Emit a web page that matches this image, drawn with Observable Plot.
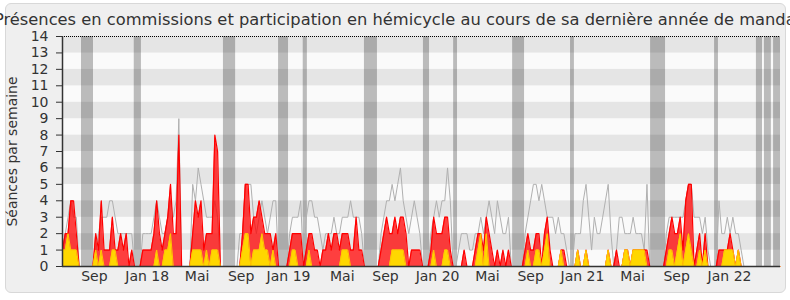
<!DOCTYPE html>
<html><head><meta charset="utf-8">
<script src="https://cdn.jsdelivr.net/npm/d3@7"></script>
<script src="https://cdn.jsdelivr.net/npm/@observablehq/plot@0.6"></script>
<style>
body{margin:0;background:#fff;}
#wrap{position:relative;width:790px;height:300px;overflow:hidden;font-family:"DejaVu Sans";}
#panel{position:absolute;left:5px;top:3px;width:779px;height:288px;background:#efefef;border:1px solid #d8d8d8;border-radius:6px;}
#title{position:relative;height:28px;white-space:nowrap;}
#title span{position:absolute;left:398px;top:12px;transform:translateX(-50%);font-size:16.3px;line-height:16px;color:#333;}
#chart{position:relative;}
#chart svg{overflow:visible;}
</style></head>
<body>
<div id="wrap">
  <div id="panel"></div>
  <div id="title"><span>Présences en commissions et participation en hémicycle au cours de sa dernière année de mandat</span></div>
  <div id="chart"></div>
</div>
<script>
// Weekly values, one entry per week starting the week of 2017-06-19
const red = [
 1,2,2,4,4,2,0,0,0,0,  0,0,2,1,4,1,1,1,3,1,
 1,2,1,2,0,1,0,0,0,1,  1,1,1,2,4,2,1,2,3,5,
 2,2,8,0,0,0,0,2,4,3,  4,1,2,2,2,8,7,0,0,0,
 0,0,0,0,0,2,5,5,2,3,  3,4,3,2,2,2,1,2,0,0,
 0,0,1,2,2,2,2,0,1,2,  2,1,1,0,1,1,2,1,2,2,
 1,2,2,2,1,1,3,1,1,0,  0,0,0,0,0,1,2,3,2,2,
 3,2,3,3,2,0,1,1,1,1,  0,0,0,1,3,2,2,2,3,3,
 1,0,0,0,0,1,0,0,0,1,  2,2,1,3,2,1,0,1,0,1,
 0,1,0,0,0,0,0,1,2,1,  1,2,2,0,2,3,1,0,0,0,
 1,1,0,0,0,0,1,0,0,1,  0,0,0,0,0,0,0,1,0,0,
 1,0,0,1,1,0,1,1,1,1,  1,1,0,0,0,0,0,0,1,2,
 3,2,2,3,1,4,5,5,0,1,  2,0,2,0,0,0,0,1,1,1,
 1,2,1,0,1,0,0,0,0,0,  0,0,0,0,0,0,0,0,0,0
];
const yellow = [
 1,1,2,1,1,1,0,0,0,0,  0,0,1,0,1,0,0,0,1,1,
 0,0,0,0,0,0,0,0,0,0,  0,0,0,0,1,0,0,1,1,2,
 0,0,0,0,0,0,0,1,1,1,  1,0,1,0,1,1,1,0,0,0,
 0,0,0,0,0,1,2,2,0,1,  1,1,2,1,1,0,1,0,0,0,
 0,0,0,1,1,0,0,0,0,1,  0,0,0,0,0,0,0,0,0,0,
 0,1,1,1,0,0,0,0,0,0,  0,0,0,0,0,0,0,0,0,1,
 1,1,1,1,0,0,0,0,0,0,  0,0,0,0,1,0,0,0,1,1,
 0,0,0,0,0,0,0,0,0,0,  1,2,0,2,0,0,0,0,0,0,
 0,0,0,0,0,0,0,0,1,0,  0,1,1,0,1,2,0,0,0,0,
 1,0,0,0,0,0,1,0,0,1,  0,0,0,0,0,0,0,1,0,0,
 0,0,0,1,1,0,1,1,1,1,  1,0,0,0,0,0,0,0,0,1,
 1,0,1,2,0,1,2,1,0,0,  1,0,1,0,0,0,0,0,0,1,
 1,1,1,0,1,0,0,0,0,0,  0,0,0,0,0,0,0,0,0,0
];
const gray = [
 1,2,3,4,3,3,0,0,0,0,  0,0,1,2,3,3,3,4,4,3,
 2,2,2,2,2,2,0,0,0,2,  2,2,2,3,4,3,2,2,3,4,
 3,4,9,0,0,0,0,5,4,6,  5,4,3,3,3,4,3,0,0,0,
 0,0,0,0,2,2,5,5,5,3,  2,3,4,3,2,3,4,4,0,0,
 0,0,2,3,3,3,4,0,3,4,  4,3,3,2,1,2,2,2,3,2,
 2,3,3,3,4,3,3,3,2,0,  0,0,0,0,0,2,3,4,4,5,
 4,5,6,4,3,2,3,4,3,2,  0,0,0,2,3,4,3,4,4,6,
 4,0,0,1,2,2,2,1,1,2,  2,3,2,3,4,3,2,4,3,2,
 2,3,0,0,0,0,0,2,3,4,  5,5,4,5,4,3,3,3,2,3,
 2,2,1,0,0,2,2,2,4,5,  3,1,3,2,2,3,4,5,2,0,
 1,3,3,2,2,2,3,2,2,2,  1,5,0,0,0,0,0,0,2,3,
 3,3,3,3,3,4,5,5,3,3,  3,2,3,1,0,0,0,4,2,2,
 3,2,3,2,2,1,0,0,0,0,  0,0,0,0,0,0,0,0,0,0
];
// Recess periods (in weeks from start)
const vacStart = [6.86, 25.9, 58.1, 78.0, 86.9, 109.0, 130.3, 141.2, 162.5, 183.4, 212.3, 235.4, 250.5, 253.4, 256.7];
const vacEnd   = [11.19, 28.5, 62.5, 81.6, 88.4, 113.7, 132.5, 142.6, 166.8, 184.8, 217.7, 236.8, 252.7, 255.9, 259.2];
// Month tick labels (in weeks from start)
const tickWeeks  = [11.5, 30.6, 48.6, 64.5, 81.6, 101, 116.6, 135.4, 153.4, 169, 187.7, 205.8, 221.7, 240.8];
const tickLabels = ["Sep","Jan 18","Mai","Sep","Jan 19","Mai","Sep","Jan 20","Mai","Sep","Jan 21","Mai","Sep","Jan 22"];
const yTicks = d3.range(0, 15);
const xMax = 259.2, yMax = 14;

const weeks = red.map((r, k) => ({k, r, y: yellow[k], g: gray[k]}));
const bands = d3.range(yMax).map(i => ({lo: i, hi: i + 1, dark: (yMax - 1 - i) % 2 === 0}));
const vac = vacStart.map((s, i) => ({s, e: vacEnd[i]}));
const labelOf = new Map(tickWeeks.map((t, i) => [t, tickLabels[i]]));

const chart = Plot.plot({
  width: 790, height: 272,
  marginLeft: 62, marginRight: 10, marginTop: 8, marginBottom: 34,
  style: {fontFamily: "DejaVu Sans", fontSize: "14px", color: "#333", background: "transparent", overflow: "visible"},
  x: {domain: [0, xMax]},
  y: {domain: [0, yMax]},
  marks: [
    Plot.rect(bands, {x1: 0, x2: xMax, y1: "lo", y2: "hi", fill: d => d.dark ? "#e5e5e5" : "#fafafa"}),
    Plot.rect(vac, {x1: "s", x2: "e", y1: 0, y2: yMax, fill: "#000", fillOpacity: 0.25}),
    Plot.line(weeks, {x: "k", y: "g", stroke: "#b0b0b0", strokeWidth: 1}),
    Plot.areaY(weeks, {x: "k", y: "r", fill: "#ff0000", fillOpacity: 0.75}),
    Plot.line(weeks, {x: "k", y: "r", stroke: "#ff0000", strokeWidth: 1.2}),
    Plot.areaY(weeks, {x: "k", y: "y", fill: "#ffd700"}),
    Plot.line(weeks, {x: "k", y: "y", stroke: "#ffc800", strokeWidth: 1}),
    Plot.ruleY([yMax], {stroke: "#000", strokeDasharray: "1 1"}),
    Plot.ruleY([0], {stroke: "#333", strokeWidth: 1.5}),
    Plot.ruleX([0], {stroke: "#333", strokeWidth: 1.5}),
    Plot.axisY({ticks: yTicks, tickSize: 6, tickPadding: 8, label: null}),
    Plot.axisX({ticks: tickWeeks, tickFormat: d => labelOf.get(d), tickSize: 0, tickPadding: 5, label: null}),
    Plot.text(["Séances par semaine"], {frameAnchor: "left", textAnchor: "middle", lineAnchor: "middle", rotate: -90, dx: -49.5, dy: 0, fontSize: 14, fill: "#333"})
  ]
});
document.getElementById("chart").appendChild(chart);
</script>
</body></html>
